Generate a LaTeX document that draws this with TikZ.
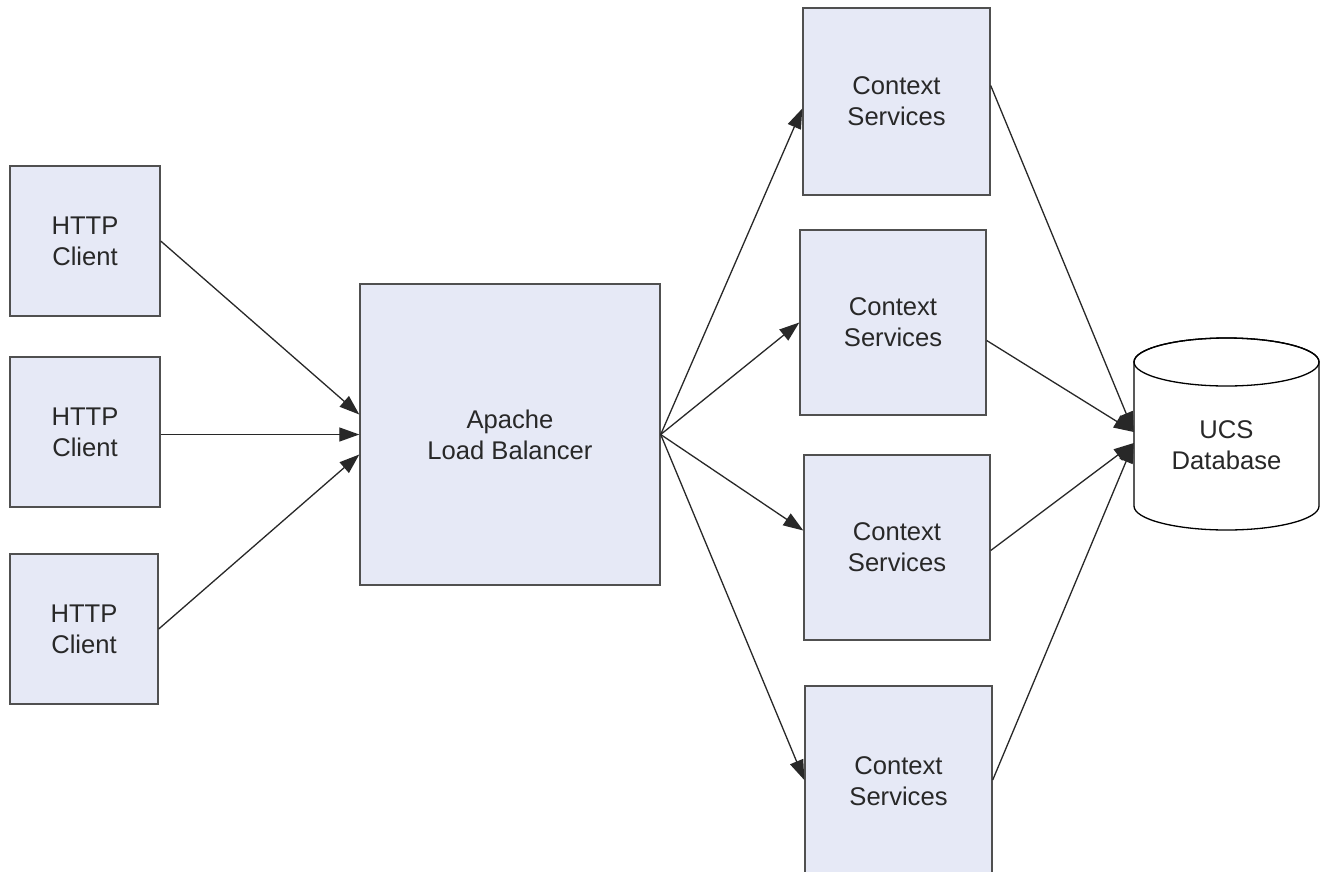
\documentclass[tikz,border=0pt]{standalone}
\usepackage{fontspec}
\setmainfont{Liberation Sans}
\usetikzlibrary{arrows.meta}
\definecolor{boxfill}{RGB}{230,233,246}
\definecolor{boxline}{RGB}{80,80,80}
\definecolor{txt}{RGB}{40,40,40}
\definecolor{conn}{RGB}{40,40,40}
\tikzset{
  box/.style={draw=boxline, line width=1.4pt, fill=boxfill, align=center, inner sep=0pt,
    text=txt, font=\fontsize{25.6}{31}\selectfont},
  conn/.style={draw=conn, line width=1.3pt, -{Triangle[length=20pt,width=14pt]}}
}
\begin{document}
\begin{tikzpicture}[x=1pt,y=-1pt]
\useasboundingbox (0,0) rectangle (1320,871);
\clip (0,0) rectangle (1320,871);
\fill[white] (0,0) rectangle (1320,871);
% clients
\node[box, minimum width=150pt, minimum height=150pt] (h1) at (85,241) {HTTP\\Client};
\node[box, minimum width=150pt, minimum height=150pt] (h2) at (85,432) {HTTP\\Client};
\node[box, minimum width=148pt, minimum height=150pt] (h3) at (84,629) {HTTP\\Client};
% load balancer
\node[box, minimum width=300pt, minimum height=301pt] (lb) at (510,434.5) {Apache\\Load Balancer};
% context services
\node[box, minimum width=187pt, minimum height=187pt] (c1) at (896.5,101.5) {Context\\Services};
\node[box, minimum width=186pt, minimum height=185pt] (c2) at (893,322.5) {Context\\Services};
\node[box, minimum width=186pt, minimum height=185pt] (c3) at (897,547.5) {Context\\Services};
\node[box, minimum width=187pt, minimum height=190pt] (c4) at (898.5,781) {Context\\Services};
% database cylinder
\path[fill=white, draw=black, line width=1.3pt]
  (1134,362) -- (1134,506) arc[start angle=180, end angle=0, x radius=92.5, y radius=24]
  -- (1319,362) arc[start angle=0, end angle=-180, x radius=92.5, y radius=24] -- cycle;
\draw[line width=1.3pt] (1226.5,362) ellipse[x radius=92.5, y radius=24];
\node[align=center, inner sep=0pt, text=txt, font=\fontsize{25.6}{31}\selectfont,
  minimum width=185pt, minimum height=192pt] (db) at (1226.5,445) {UCS\\Database};
% connectors
\draw[conn] (h1.east) -- ([yshift=20pt]lb.west);
\draw[conn] ([yshift=-2.5pt]h2.east) -- (lb.west);
\draw[conn] (h3.east) -- ([yshift=-20pt]lb.west);
\draw[conn] (lb.east) -- ([yshift=-7pt]c1.west);
\draw[conn] (lb.east) -- (c2.west);
\draw[conn] (lb.east) -- ([yshift=17pt]c3.west);
\draw[conn] (lb.east) -- ([yshift=1pt]c4.west);
\draw[conn] ([yshift=16pt]c1.east) -- ([yshift=13pt]db.west);
\draw[conn] ([yshift=-18pt]c2.east) -- ([yshift=13pt]db.west);
\draw[conn] ([yshift=-3pt]c3.east) -- ([yshift=2pt]db.west);
\draw[conn] ([yshift=1pt]c4.east) -- ([yshift=2pt]db.west);
\end{tikzpicture}
\end{document}
